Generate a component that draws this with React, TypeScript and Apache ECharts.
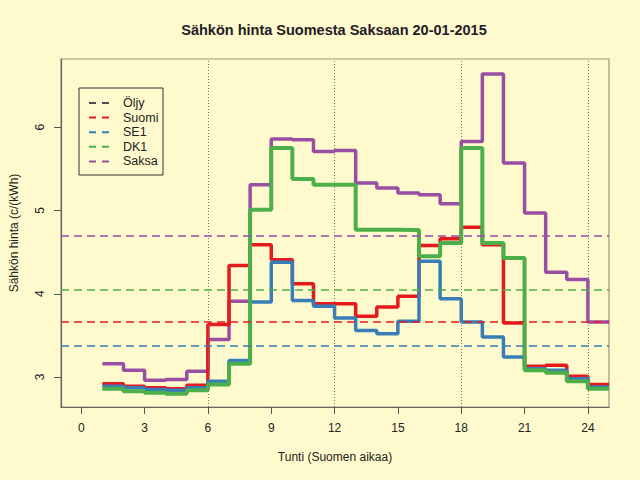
import { useEffect, useRef } from 'react';
import * as echarts from 'echarts';

// tunnit 1..24, arvo pysyy voimassa seuraavaan tuntiin asti
const hours = [1, 2, 3, 4, 5, 6, 7, 8, 9, 10, 11, 12, 13, 14, 15, 16, 17, 18, 19, 20, 21, 22, 23, 24];

const suomi = [2.92, 2.89, 2.87, 2.86, 2.9, 3.63, 4.34, 4.59, 4.41, 4.12, 3.88, 3.88, 3.73, 3.84, 3.97, 4.58, 4.66, 4.8, 4.59, 3.65, 3.13, 3.14, 3.01, 2.91];
const se1 = [2.89, 2.87, 2.85, 2.84, 2.87, 2.95, 3.2, 3.9, 4.38, 3.92, 3.85, 3.71, 3.56, 3.52, 3.67, 4.39, 3.94, 3.66, 3.48, 3.24, 3.1, 3.08, 2.98, 2.88];
const dk1 = [2.86, 2.83, 2.81, 2.8, 2.84, 2.91, 3.16, 5.01, 5.75, 5.38, 5.31, 5.31, 4.77, 4.77, 4.765, 4.45, 4.61, 5.75, 4.61, 4.43, 3.08, 3.05, 2.95, 2.86];
const saksa = [3.16, 3.08, 2.96, 2.97, 3.07, 3.45, 3.91, 5.31, 5.86, 5.85, 5.71, 5.72, 5.33, 5.27, 5.21, 5.19, 5.08, 5.83, 6.64, 5.57, 4.97, 4.26, 4.17, 3.66];

// vuorokauden keskiarvot (katkoviivat)
const meanNames = ['Saksa', 'DK1', 'Suomi', 'SE1'];
const meanValues = [4.7, 4.05, 3.66, 3.375];

const xTicks = [0, 3, 6, 9, 12, 15, 18, 21, 24];
const yTicks = [3, 4, 5, 6];
const dottedHours = [6, 12, 18, 24];

const legendNames = ['Öljy', 'Suomi', 'SE1', 'DK1', 'Saksa'];
const colors: Record<string, string> = {
  'Öljy': '#4d4d4d',
  Suomi: '#e41a1c',
  SE1: '#377eb8',
  DK1: '#4daf4a',
  Saksa: '#984ea3',
};

const FONT = '"Liberation Sans", Arial, sans-serif';

// portaat: viimeinen arvo jatkuu tuntiin 25 asti
const steps = (vals: number[]) => {
  const d = hours.map((h, i) => [h, vals[i]]);
  d.push([hours[hours.length - 1] + 1, vals[vals.length - 1]]);
  return d;
};

function App() {
  const chartRef = useRef<HTMLDivElement>(null);

  useEffect(() => {
    if (!chartRef.current) return;
    const chart = echarts.init(chartRef.current, null, { renderer: 'svg' });

    const stepSeries = [
      { name: 'Saksa', data: saksa, width: 3.5 },
      { name: 'Suomi', data: suomi, width: 3.5 },
      { name: 'SE1', data: se1, width: 3.5 },
      { name: 'DK1', data: dk1, width: 4 },
    ].map((s) => ({
      name: s.name,
      type: 'line',
      step: 'end',
      symbol: 'none',
      data: steps(s.data),
      lineStyle: { color: colors[s.name], width: s.width },
      z: 3,
    }));

    // legenda piirretään itse, jotta laatikko näyttää R:n legendiltä
    const legendItems: any[] = [
      {
        type: 'rect',
        shape: { x: 0, y: 0, width: 84, height: 87 },
        style: { fill: 'none', stroke: '#333', lineWidth: 1 },
      },
    ];
    legendNames.forEach((name, i) => {
      const y = 15 + i * 14.6;
      legendItems.push(
        { type: 'line', shape: { x1: 10, y1: y, x2: 30, y2: y }, style: { stroke: colors[name], lineWidth: 2, lineDash: [7, 6] } },
        { type: 'text', x: 44, y, style: { text: name, font: `12.5px ${FONT}`, fill: '#222', verticalAlign: 'middle' } }
      );
    });

    chart.setOption({
      animation: false,
      backgroundColor: '#fffacd',
      textStyle: { fontFamily: FONT },
      grid: {
        left: 59,
        top: 59,
        width: 550,
        height: 348,
        show: true,
        borderColor: '#9c9682',
        borderWidth: 1.2,
        backgroundColor: 'transparent',
      },
      xAxis: {
        type: 'value',
        min: -0.96,
        max: 25,
        name: 'Tunti (Suomen aikaa)',
        nameLocation: 'middle',
        nameGap: 44,
        nameTextStyle: { fontSize: 12, color: '#222', fontFamily: FONT },
        axisLine: { show: true, onZero: false, lineStyle: { color: '#666', width: 1.2 } },
        axisTick: { show: true, length: 7, customValues: xTicks, lineStyle: { color: '#555' } },
        axisLabel: { customValues: xTicks, margin: 15, fontSize: 12, color: '#222' },
        splitLine: { show: false },
      },
      yAxis: {
        type: 'value',
        min: 2.64,
        max: 6.82,
        name: 'Sähkön hinta (c/(kWh)',
        nameLocation: 'middle',
        nameGap: 41,
        nameTextStyle: { fontSize: 12, color: '#222', fontFamily: FONT },
        axisLine: { show: true, onZero: false, lineStyle: { color: '#666', width: 1.2 } },
        axisTick: { show: true, length: 7, customValues: yTicks, lineStyle: { color: '#555' } },
        axisLabel: { customValues: yTicks, rotate: 90, margin: 15, fontSize: 12, color: '#222' },
        splitLine: { show: false },
      },
      graphic: [
        {
          type: 'text',
          x: 334,
          y: 30,
          style: {
            text: 'Sähkön hinta Suomesta Saksaan 20-01-2015',
            font: `bold 14.5px ${FONT}`,
            fill: '#231c26',
            textAlign: 'center',
            textVerticalAlign: 'middle',
          },
        },
        { type: 'group', x: 79, y: 88, children: legendItems },
      ],
      series: [
        {
          name: 'apuviivat',
          type: 'line',
          data: [],
          silent: true,
          markLine: {
            symbol: 'none',
            silent: true,
            label: { show: false },
            data: [
              ...dottedHours.map((h) => ({
                xAxis: h,
                lineStyle: { color: '#777', width: 1, type: [1, 2] },
              })),
              ...meanNames.map((n, i) => ({
                yAxis: meanValues[i],
                lineStyle: { color: colors[n], width: 1.6, type: [8, 5] },
              })),
            ],
          },
          z: 2,
        },
        ...stepSeries,
      ],
    });

    return () => {
      chart.dispose();
    };
  }, []);

  return (
    <div
      ref={chartRef}
      style={{ position: 'fixed', left: 0, top: 0, width: '640px', height: '480px' }}
    />
  );
}

export default App;
